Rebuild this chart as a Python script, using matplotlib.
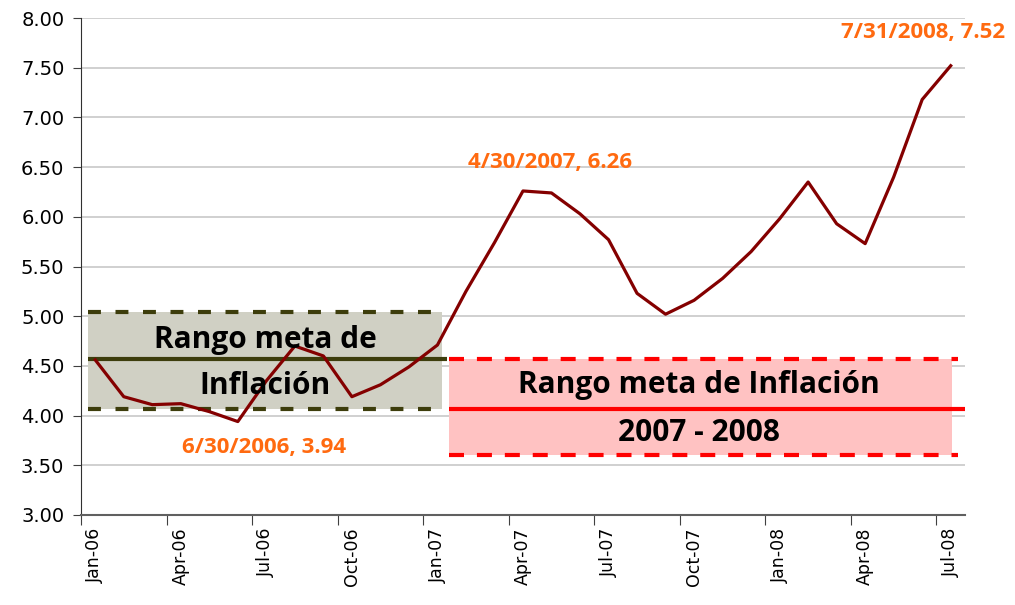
import numpy as np
import matplotlib.pyplot as plt

# monthly inflation, Jan-06 .. Jul-08
months = ["Jan-06", "Feb-06", "Mar-06", "Apr-06", "May-06", "Jun-06", "Jul-06", "Aug-06",
          "Sep-06", "Oct-06", "Nov-06", "Dec-06", "Jan-07", "Feb-07", "Mar-07", "Apr-07",
          "May-07", "Jun-07", "Jul-07", "Aug-07", "Sep-07", "Oct-07", "Nov-07", "Dec-07",
          "Jan-08", "Feb-08", "Mar-08", "Apr-08", "May-08", "Jun-08", "Jul-08"]
inflacion = [4.56, 4.19, 4.11, 4.12, 4.04, 3.94, 4.35, 4.70, 4.60, 4.19, 4.31, 4.49,
             4.71, 5.25, 5.74, 6.26, 6.24, 6.03, 5.77, 5.23, 5.02, 5.16, 5.38, 5.65,
             5.98, 6.35, 5.93, 5.73, 6.40, 7.18, 7.52]

# target ranges (low, mid, high)
meta_2006 = [4.07, 4.57, 5.04]
meta_0708 = [3.60, 4.07, 4.57]

notas = [(5, "6/30/2006, 3.94"), (15, "4/30/2007, 6.26"), (30, "7/31/2008, 7.52")]

x = np.arange(len(months))
naranja = "#FF6A10"
oliva = "#3D3D0C"

fig = plt.figure(figsize=(10.15, 6.05), dpi=100)
ax = fig.add_axes([0.0798, 0.1488, 0.8709, 0.8214])

# gray band 2006
ax.fill_between([-0.25, 12.15], meta_2006[0], meta_2006[2], color="#D0D0C4", zorder=1, lw=0)
ax.hlines([meta_2006[0], meta_2006[2]], -0.25, 12.2, colors=oliva, lw=3,
          linestyles=(0, (3.1, 3.5)), zorder=2)
ax.hlines(meta_2006[1], -0.25, 12.35, colors=oliva, lw=3, zorder=2)

# red band 2007-2008
ax.fill_between([12.42, 30.04], meta_0708[0], meta_0708[2], color="#FFC2C2", zorder=1, lw=0)
ax.hlines([meta_0708[0], meta_0708[2]], 12.42, 30.25, colors="#FF0000", lw=3,
          linestyles=(0, (3.6, 3.1)), zorder=2)
ax.hlines(meta_0708[1], 12.42, 30.5, colors="#FF0000", lw=3, zorder=2)

ax.plot(x, inflacion, color="#840000", lw=2.3, zorder=3)

txt = dict(fontsize=21.5, fontweight="bold", family="Open Sans", ha="center", va="center", zorder=4)
ax.text(5.96, 4.76, "Rango meta de", **txt)
ax.text(5.96, 4.30, "Inflación", **txt)
ax.text(21.16, 4.31, "Rango meta de Inflación", **txt)
ax.text(21.16, 3.82, "2007 - 2008", **txt)

# label positions (x, y, ha) in data units
pos = {5: (5.93, 3.68, "center"), 15: (15.96, 6.55, "center"), 30: (31.9, 7.85, "right")}
for i, s in notas:
    px, py, ha = pos[i]
    ax.text(px, py, s, color=naranja, fontsize=16, fontweight="bold",
            family="Open Sans", ha=ha, va="center", zorder=4)

ax.set_xlim(-0.5, 30.5)
ax.set_ylim(3.0, 8.0)
ax.set_yticks(np.arange(3.0, 8.01, 0.5))
ax.set_yticklabels([f"{v:.2f}" for v in np.arange(3.0, 8.01, 0.5)], fontsize=14,
                   family="DejaVu Sans")
ax.yaxis.grid(True, color="#C8C8C8", lw=1.2)
ax.set_axisbelow(True)

ax.set_xticks(np.arange(0, 31, 3) - 0.5)
ax.set_xticklabels([])
ax.set_xticks(np.arange(0, 31, 3), minor=True)
ax.set_xticklabels(months[::3], minor=True, rotation=90, fontsize=12.5, family="DejaVu Sans")
ax.tick_params(axis="x", which="minor", length=0, pad=9)
ax.tick_params(axis="x", which="major", length=7, color="#404040", direction="out")
ax.tick_params(axis="y", length=6, color="#404040", pad=6)

for s in ["top", "right"]:
    ax.spines[s].set_visible(False)
ax.spines["left"].set_color("#303030")
ax.spines["bottom"].set_color("#606060")
ax.spines["bottom"].set_linewidth(1.5)

fig.savefig("out.png", dpi=100)
